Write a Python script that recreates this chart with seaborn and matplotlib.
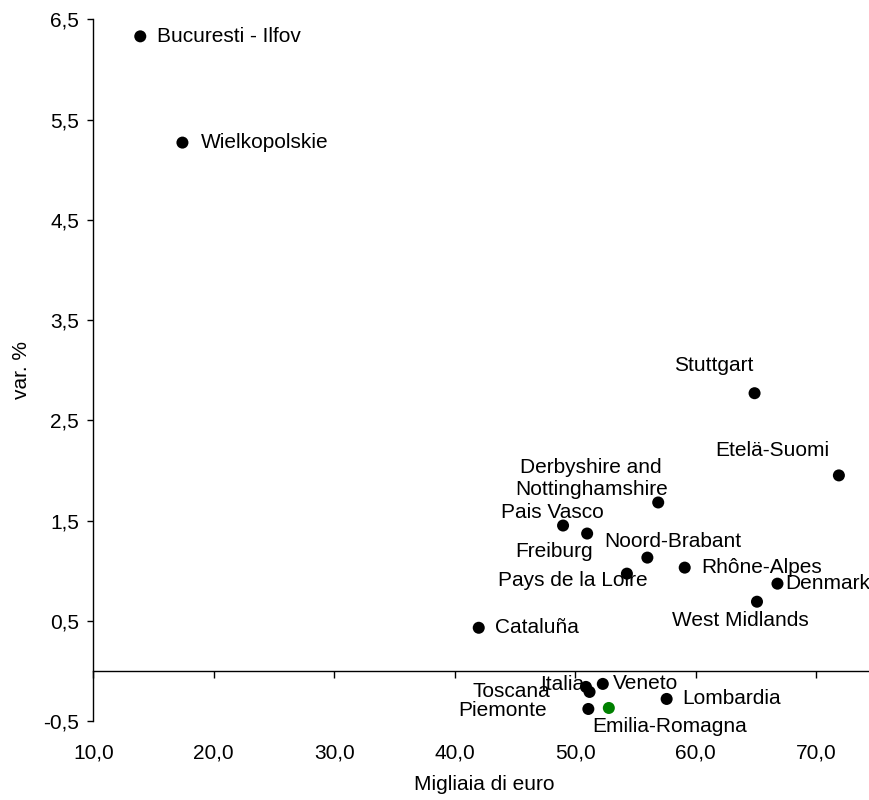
import numpy as np
import pandas as pd
import matplotlib
matplotlib.use("Agg")
import matplotlib.pyplot as plt
from matplotlib.ticker import FuncFormatter
import seaborn as sns

# dati
regioni = ["Bucuresti - Ilfov", "Wielkopolskie", "Stuttgart", "Etelä-Suomi",
           "Derbyshire and\nNottinghamshire", "Pais Vasco", "Freiburg", "Noord-Brabant",
           "Pays de la Loire", "Rhône-Alpes", "Denmark", "West Midlands", "Cataluña",
           "Italia", "Toscana", "Veneto", "Lombardia", "Piemonte", "Emilia-Romagna"]
migliaia_euro = [13.9, 17.4, 64.9, 71.9, 56.9, 49.0, 51.0, 56.0, 54.3, 59.1, 66.8,
                 65.1, 42.0, 50.9, 51.2, 52.3, 57.6, 51.1, 52.8]
var_perc = [6.33, 5.27, 2.77, 1.95, 1.68, 1.45, 1.37, 1.13, 0.97, 1.03, 0.87, 0.69,
            0.43, -0.16, -0.21, -0.13, -0.28, -0.38, -0.37]
x_ticks = [10, 20, 30, 40, 50, 60, 70]
y_ticks = [-0.5, 0.5, 1.5, 2.5, 3.5, 4.5, 5.5, 6.5]

# posizione delle etichette (pixel rispetto al punto)
etichette = {
    "Bucuresti - Ilfov": (17, 0, "left"),
    "Wielkopolskie": (18, 0, "left"),
    "Stuttgart": (-41, 28, "center"),
    "Etelä-Suomi": (-67, 25, "center"),
    "Derbyshire and\nNottinghamshire": (-67, 24, "center"),
    "Pais Vasco": (-11, 13, "center"),
    "Freiburg": (-33, -18, "center"),
    "Noord-Brabant": (25, 16, "center"),
    "Pays de la Loire": (-54, -7, "center"),
    "Rhône-Alpes": (17, 0, "left"),
    "Denmark": (8, 0, "left"),
    "West Midlands": (-17, -19, "center"),
    "Cataluña": (16, 0, "left"),
    "Italia": (-2, 2, "right"),
    "Toscana": (-39, 0, "right"),
    "Veneto": (10, 0, "left"),
    "Lombardia": (16, 0, "left"),
    "Piemonte": (-41, -2, "right"),
    "Emilia-Romagna": (61, -19, "center"),
}

sns.set_style("white")
plt.rcParams['font.family'] = ['Liberation Sans', 'DejaVu Sans']
plt.rcParams['text.color'] = 'black'
plt.rcParams['axes.labelcolor'] = 'black'
plt.rcParams['xtick.color'] = 'black'
plt.rcParams['ytick.color'] = 'black'

df = pd.DataFrame({"regione": regioni, "x": migliaia_euro, "y": var_perc})
df["gruppo"] = np.where(df["regione"] == "Emilia-Romagna", "er", "altre")

fig = plt.figure(figsize=(8.69, 8), dpi=100)
ax = fig.add_axes([93.3 / 869, 79 / 800, (869 - 93.3) / 869, (721 - 19.3) / 800])

sns.scatterplot(data=df, x="x", y="y", hue="gruppo",
                palette={"altre": "black", "er": "#008000"},
                s=75, linewidth=0, legend=False, ax=ax, zorder=3)

for _, r in df.iterrows():
    dx, dy, ha = etichette[r["regione"]]
    ax.annotate(r["regione"], (r["x"], r["y"]), xytext=(dx, dy),
                textcoords="offset pixels", ha=ha, va="center",
                fontsize=15, multialignment="center", color="black")

ax.set_xlim(10, 74.4)
ax.set_ylim(-0.5, 6.5)
ax.set_xticks(x_ticks)
ax.set_yticks(y_ticks)
fmt = FuncFormatter(lambda v, p: f"{v:.1f}".replace(".", ","))
ax.yaxis.set_major_formatter(fmt)

for s in ["top", "right"]:
    ax.spines[s].set_visible(False)
for s in ["left", "bottom"]:
    ax.spines[s].set_color("black")
    ax.spines[s].set_linewidth(1.0)
ax.spines["bottom"].set_position(("data", 0))
ax.tick_params(axis="x", direction="out", length=5, width=1, color="black",
               labelbottom=False, bottom=True)
ax.tick_params(axis="y", direction="out", length=4.3, width=1, color="black",
               labelsize=15, pad=6, left=True)

# etichette asse x in basso
sec = ax.secondary_xaxis("bottom")
sec.set_xticks(x_ticks)
sec.xaxis.set_major_formatter(fmt)
sec.spines["bottom"].set_visible(False)
sec.tick_params(length=0, pad=16, labelsize=15, colors="black")

ax.set_xlabel("")
ax.set_ylabel("")
fig.text(21.5 / 869, 1 - 370 / 800, "var. %", rotation=90, ha="center", va="center", fontsize=15)
fig.text(484 / 869, 1 - 785 / 800, "Migliaia di euro", ha="center", va="center", fontsize=15)

fig.savefig("out.png", dpi=100)
